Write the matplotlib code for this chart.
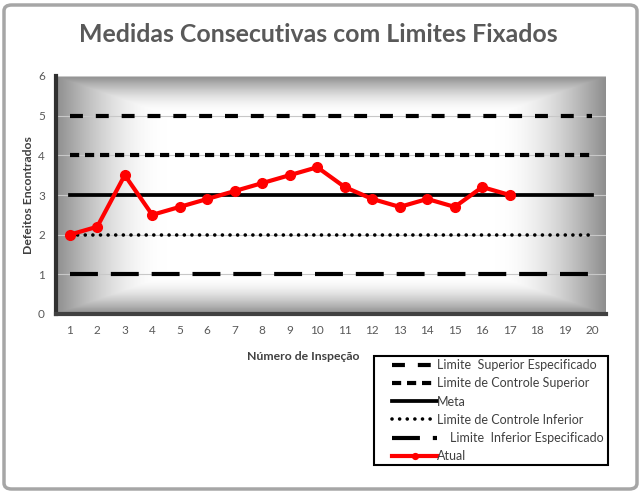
import matplotlib
matplotlib.use("Agg")
import matplotlib.pyplot as plt
import numpy as np
from matplotlib.patches import FancyBboxPatch, Rectangle

plt.rcParams['font.family'] = ['Lato', 'DejaVu Sans']

inspecoes = list(range(1, 21))
atual = [2.0, 2.2, 3.5, 2.5, 2.7, 2.9, 3.1, 3.3, 3.5, 3.7, 3.2, 2.9, 2.7, 2.9, 2.7, 3.2, 3.0]
lim_sup_esp = [5] * 20
lim_ctrl_sup = [4] * 20
meta = [3] * 20
lim_ctrl_inf = [2] * 20
lim_inf_esp = [1] * 20

fig = plt.figure(figsize=(6.42, 4.93), dpi=100)
ax = fig.add_axes([56 / 642, 1 - 314 / 493, 550 / 642, 238 / 493])

# gradient background (gray edges, white centre)
u = np.linspace(0, 1, 400)
v = np.linspace(0, 1, 200)
U, V = np.meshgrid(u, v)
dx = np.minimum(U, 1 - U) / 0.2
dy = np.minimum(V, 1 - V) / 0.16
t = np.clip(np.minimum(dx, dy), 0, 1)
t = np.sin(t * np.pi / 2)
g = 0.56 + (1 - 0.56) * t
img = np.dstack([g, g, g])
ax.imshow(img, extent=[0, 1, 0, 1], transform=ax.transAxes, aspect='auto', zorder=0)

ax.set_xlim(0.5, 20.5)
ax.set_ylim(0, 6)
ax.set_yticks(range(0, 7))
ax.set_xticks(inspecoes)
ax.grid(axis='y', color='#c8c8c8', lw=0.8, zorder=1)

ax.plot(inspecoes, lim_sup_esp, color='black', lw=3, dashes=(3.1, 3.1), dash_capstyle='butt',
        label='Limite  Superior Especificado', zorder=3)
ax.plot(inspecoes, lim_ctrl_sup, color='black', lw=3, dashes=(2.2, 1.4), dash_capstyle='butt',
        label='Limite de Controle Superior', zorder=3)
ax.plot(inspecoes, meta, color='black', lw=2.7, label='Meta', zorder=3)
ax.plot(inspecoes, lim_ctrl_inf, color='black', lw=2.6, linestyle=(0, (0.01, 2.1)),
        dash_capstyle='round', label='Limite de Controle Inferior', zorder=3)
ax.plot(inspecoes, lim_inf_esp, color='black', lw=3, dashes=(6.7, 3.1), dash_capstyle='butt',
        label='    Limite  Inferior Especificado', zorder=3)
ax.plot(range(1, len(atual) + 1), atual, color='#ff0000', lw=3, marker='o', markersize=7,
        label='Atual', zorder=4)

for s in ['top', 'right']:
    ax.spines[s].set_visible(False)
ax.spines['left'].set_color('#303030')
ax.spines['left'].set_linewidth(3)
ax.spines['bottom'].set_color('#404040')
ax.spines['bottom'].set_linewidth(3)
ax.tick_params(length=0, labelsize=8.5, colors='#595959', pad=8)

ax.set_ylabel('Defeitos Encontrados', fontsize=8.8, fontweight='bold', color='#404040', labelpad=3)
fig.text(303 / 642, 1 - 356 / 493, 'Número de Inspeção', fontsize=8.8, fontweight='bold',
         color='#404040', ha='center', va='center')
fig.text(318 / 642, 1 - 35 / 493, 'Medidas Consecutivas com Limites Fixados', fontsize=17.9,
         fontweight='bold', color='#595959', ha='center', va='center')

# legend box drawn separately so the padding can differ per side
fig.patches.append(Rectangle((374 / 642, 1 - 465 / 493), 234 / 642, 109 / 493,
                             transform=fig.transFigure, fill=False, edgecolor='black', lw=1.5))
leg = fig.legend(loc='upper left', bbox_to_anchor=(392 / 642, 1 - 359 / 493), fontsize=9.0,
                 frameon=False, handlelength=3.6, handletextpad=0.0, labelspacing=0.5,
                 borderpad=0, borderaxespad=0, markerscale=0.6)
for txt in leg.get_texts():
    txt.set_color('#404040')

border = FancyBboxPatch((4 / 642, 4 / 493), 633 / 642, 484 / 493,
                        boxstyle='round,pad=0,rounding_size=0.012', transform=fig.transFigure,
                        fill=False, edgecolor='#a6a6a6', lw=2.5)
fig.patches.append(border)

fig.savefig('out.png', dpi=100)
